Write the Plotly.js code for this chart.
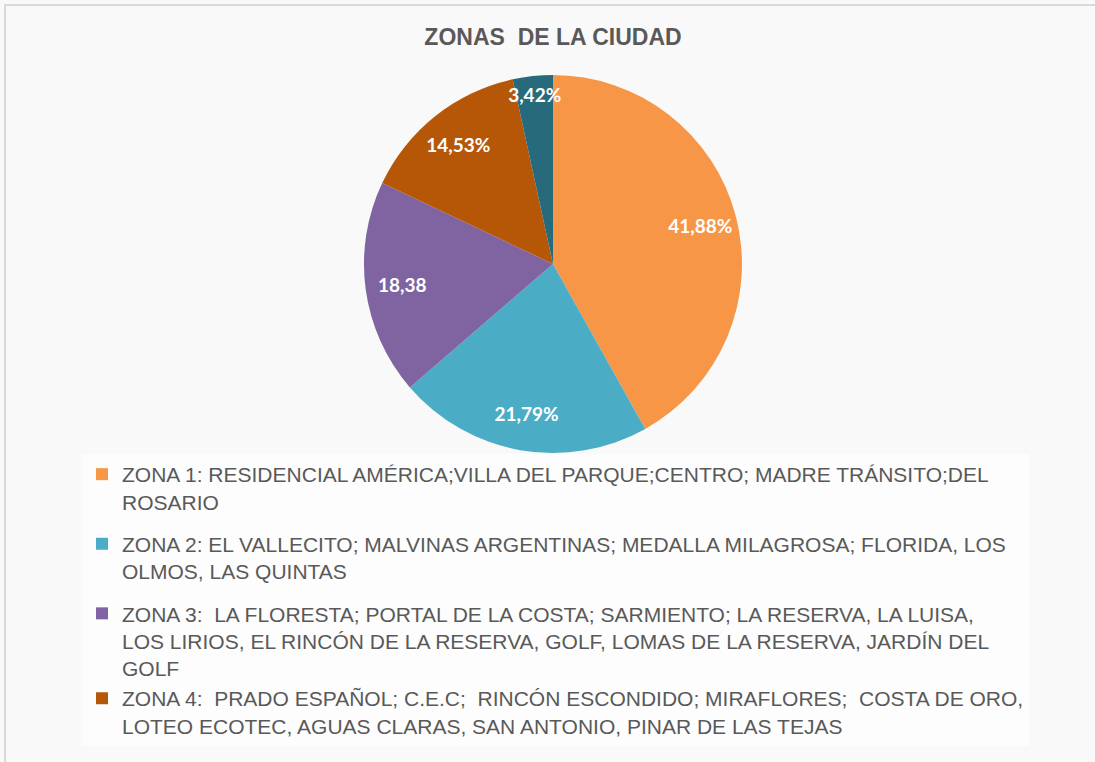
<!DOCTYPE html>
<html>
<head>
<meta charset="utf-8">
<script src="https://cdn.plot.ly/plotly-3.0.1.min.js"></script>
<style>
  html, body { margin: 0; padding: 0; background: #ffffff; }
  #chart { width: 1095px; height: 762px; }
</style>
</head>
<body>
<div id="chart"></div>
<script>
// ---- data ----
const chartTitle = 'ZONAS\u00a0 DE LA CIUDAD';
const zoneLabels = [
  'ZONA 1: RESIDENCIAL AMÉRICA;VILLA DEL PARQUE;CENTRO; MADRE TRÁNSITO;DEL<br>ROSARIO',
  'ZONA 2: EL VALLECITO; MALVINAS ARGENTINAS; MEDALLA MILAGROSA; FLORIDA, LOS<br>OLMOS, LAS QUINTAS',
  'ZONA 3:\u00a0 LA FLORESTA; PORTAL DE LA COSTA; SARMIENTO; LA RESERVA, LA LUISA,<br>LOS LIRIOS, EL RINCÓN DE LA RESERVA, GOLF, LOMAS DE LA RESERVA, JARDÍN DEL<br>GOLF',
  'ZONA 4:\u00a0 PRADO ESPAÑOL; C.E.C;\u00a0 RINCÓN ESCONDIDO; MIRAFLORES;\u00a0 COSTA DE ORO,<br>LOTEO ECOTEC, AGUAS CLARAS, SAN ANTONIO, PINAR DE LAS TEJAS',
  'ZONA 5'
];
const zoneShares = [41.88, 21.79, 18.38, 14.53, 3.42];
const labelSuffix = ['%', '%', '', '%', '%'];
const zoneColors = ['#F79646', '#4BACC6', '#8064A2', '#B65708', '#276A7C'];
// zones shown in the legend, grouped into legend blocks (zone 5 is not in the legend)
const legendBlocks = [[0], [1], [2, 3]];

// ---- derived ----
const sliceText = zoneShares.map((v, i) => v.toFixed(2).replace('.', ',') + labelSuffix[i]);

const cx = 553 / 1095, cy = 1 - 264 / 762;
const pieDomain = { x: [0.2, 0.81], y: [1 - 453 / 762, 1 - 75 / 762] };

// tiny pies (hidden under the main pie centre) that only feed the legend
const legendTraces = legendBlocks.map((idx, b) => ({
  type: 'pie',
  labels: idx.map(i => zoneLabels[i]),
  values: idx.map(i => zoneShares[i]),
  marker: { colors: idx.map(i => zoneColors[i]) },
  sort: false,
  direction: 'clockwise',
  textinfo: 'none',
  hoverinfo: 'skip',
  legendgroup: 'block' + b,
  domain: { x: [cx - 0.0002, cx + 0.0002], y: [cy - 0.0002, cy + 0.0002] },
  showlegend: true
}));

const mainTrace = {
  type: 'pie',
  labels: zoneLabels,
  values: zoneShares,
  textinfo: 'none',
  marker: { colors: zoneColors, line: { width: 0 } },
  sort: false,
  direction: 'clockwise',
  rotation: 0,
  domain: pieDomain,
  showlegend: false,
  hoverinfo: 'label+percent'
};

// transparent ring on top that carries the data labels toward the outer edge
const labelTrace = {
  type: 'pie',
  labels: zoneLabels,
  values: zoneShares,
  text: sliceText,
  textinfo: 'text',
  textposition: 'inside',
  insidetextorientation: 'horizontal',
  textfont: { family: 'Lato, "Open Sans", sans-serif', size: 19, color: '#ffffff', weight: 'bold' },
  marker: { colors: zoneShares.map(() => 'rgba(0,0,0,0)'), line: { width: 0 } },
  hole: 0.61,
  sort: false,
  direction: 'clockwise',
  rotation: 0,
  domain: pieDomain,
  showlegend: false,
  hoverinfo: 'skip'
};

const layout = {
  width: 1095,
  height: 762,
  margin: { l: 0, r: 0, t: 0, b: 0 },
  paper_bgcolor: '#f9f9f9',
  plot_bgcolor: '#f9f9f9',
  title: {
    text: '<b>' + chartTitle + '</b>',
    x: 553 / 1095,
    xanchor: 'center',
    y: 1 - 37 / 762,
    yanchor: 'middle',
    font: { family: 'Arial, "Liberation Sans", sans-serif', size: 23, color: '#595959' }
  },
  uniformtext: { mode: 'show', minsize: 19 },
  showlegend: true,
  legend: {
    x: 82 / 1095,
    xanchor: 'left',
    y: 1 - 454 / 762,
    yanchor: 'top',
    valign: 'top',
    bgcolor: '#fdfdfd',
    borderwidth: 0,
    font: { family: 'Arial, "Liberation Sans", sans-serif', size: 21, color: '#595959' },
    traceorder: 'grouped',
    tracegroupgap: 12,
    itemclick: false,
    itemdoubleclick: false
  },
  shapes: [{
    type: 'rect', xref: 'paper', yref: 'paper',
    x0: 5 / 1095, x1: 1.2, y0: -0.2, y1: 1 - 5 / 762,
    line: { color: '#d9d9d9', width: 2 },
    fillcolor: 'rgba(0,0,0,0)',
    layer: 'below'
  }]
};

Plotly.newPlot('chart', legendTraces.concat([mainTrace, labelTrace]), layout, { displayModeBar: false });
</script>
</body>
</html>
